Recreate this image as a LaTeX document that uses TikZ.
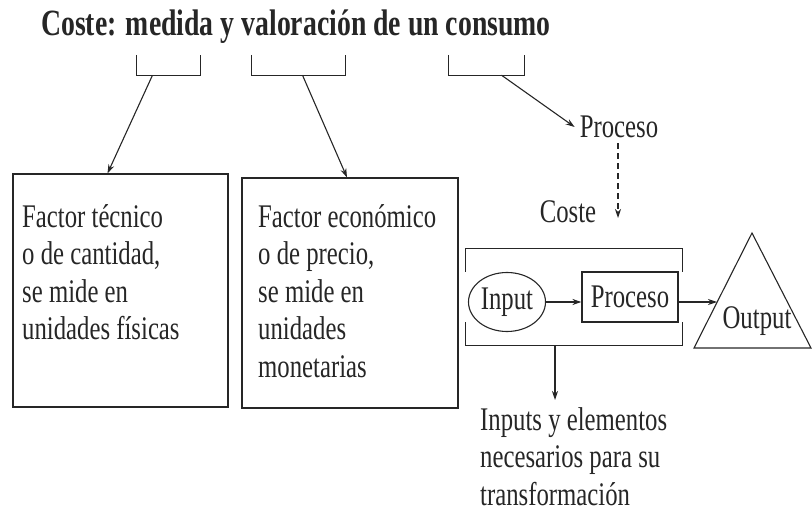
\documentclass[tikz,border=0pt]{standalone}
\usepackage{fontspec}
\setmainfont[FakeStretch=0.75]{Liberation Serif}
\usetikzlibrary{arrows.meta,shapes.geometric}
\begin{document}
\begin{tikzpicture}[x=1pt,y=-1pt,
  ln/.style={line width=1.1pt,draw=black!85},
  arr/.style={ln,-{Stealth[length=9pt,width=6pt]}},
  txt/.style={inner sep=0pt,font=\fontsize{33}{37.5}\selectfont,align=left,text=black!85},
  brk/.style={minimum height=20pt,inner sep=0pt},
  boxf/.style={ln,inner sep=0pt}]
\useasboundingbox (0,0) rectangle (812,521);
% title
\node[inner sep=0pt,font=\fontsize{37}{40}\selectfont\bfseries,text=black!85] (title) at (296,27) {Coste: medida y valoración de un consumo};
% small brackets
\node[brk,minimum width=63pt] (b1) at (168.5,65) {};
\node[brk,minimum width=93pt] (b2) at (298.5,65) {};
\node[brk,minimum width=75pt] (b3) at (486.5,65) {};
\foreach \b in {b1,b2,b3}
  \draw[ln] (\b.north west) |- (\b.south east) -- (\b.north east);
% boxes
\node[boxf,minimum width=215pt,minimum height=233pt] (box1) at (120.5,290.5) {};
\node[boxf,minimum width=216pt,minimum height=230pt] (box2) at (350,293) {};
\node[txt,anchor=north west] (t1) at (22,204) {Factor técnico\\o de cantidad,\\se mide en\\unidades físicas};
\node[txt,anchor=north west] (t2) at (258,204) {Factor económico\\o de precio,\\se mide en\\unidades\\monetarias};
\draw[arr] ([xshift=-16pt]b1.south) -- ([xshift=-13pt]box1.north);
\draw[arr] ([xshift=4pt]b2.south) -- ([xshift=-3pt]box2.north);
% proceso label
\node[txt] (pl) at (619,127) {Proceso};
\draw[arr] ([xshift=15pt]b3.south) -- ([xshift=-5pt]pl.west);
\coordinate (dend) at (618,218);
\draw[arr,dash pattern=on 6pt off 4pt] (pl.south -| dend) ++(0,5) -- (dend);
\node[txt] (coste) at (568,212) {Coste};
% frame
\node[inner sep=0pt,minimum width=216pt,minimum height=96pt] (frame) at (574,297) {};
\draw[ln] ([yshift=-23pt]frame.north west) -- (frame.north west) -- (frame.north east) -- ([yshift=-23pt]frame.north east);
\draw[ln] ([yshift=23pt]frame.south west) -- (frame.south west) -- (frame.south east) -- ([yshift=23pt]frame.south east);
\node[ellipse,ln,minimum width=77pt,minimum height=59pt,inner sep=0pt,font=\fontsize{33}{37.5}\selectfont,text=black!85] (inp) at (507,302) {Input};
\node[rectangle,ln,minimum width=96pt,minimum height=50pt,inner sep=0pt,font=\fontsize{33}{37.5}\selectfont,text=black!85] (proc) at (630,297) {Proceso};
\draw[arr] (inp.east) -- (inp.east -| proc.west);
% output triangle
\coordinate (tl) at (694,348);
\coordinate (tr) at (811,348);
\coordinate (tt) at (752,233);
\draw[ln,line join=miter] (tl) -- (tt) -- (tr) -- cycle;
\node[txt] (out) at (757,321) {Output};
\coordinate (oin) at (717,302);
\draw[arr] (proc.east |- oin) -- (oin);
% inputs text
\node[txt,anchor=north west] (inputs) at (480,407) {Inputs y elementos\\necesarios para su\\transformación};
\coordinate (stemend) at (555,400);
\draw[arr] (frame.south -| stemend) -- (stemend);
\end{tikzpicture}
\end{document}
